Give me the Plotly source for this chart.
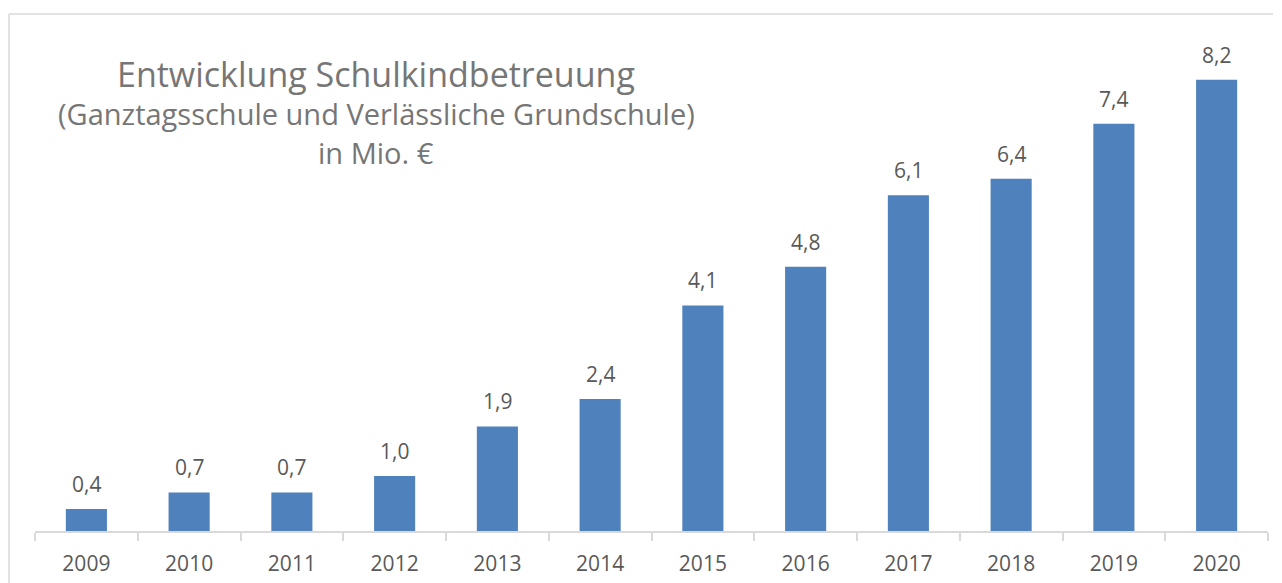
import plotly.graph_objects as go

years = ["2009", "2010", "2011", "2012", "2013", "2014", "2015", "2016", "2017", "2018", "2019", "2020"]
values = [0.4, 0.7, 0.7, 1.0, 1.9, 2.4, 4.1, 4.8, 6.1, 6.4, 7.4, 8.2]
title_lines = ["Entwicklung Schulkindbetreuung",
               "(Ganztagsschule und Verlässliche Grundschule)",
               "in Mio. €"]

OFF = 8  # default page body margin
W, H = 1282 - OFF, 583 - OFF
ml, mr, mt, mb = 35 - OFF, 14, 14 - OFF, 50
pw, ph = W - ml - mr, H - mt - mb

def px_x(p):
    return (p - OFF - ml) / pw

def px_y(p):
    return (H - mb - (p - OFF)) / ph

FONT = "Open Sans"
LABEL = "#595959"
TITLE = "#767676"
GRID = "#d9d9d9"

fig = go.Figure(go.Bar(
    x=years, y=values,
    marker=dict(color="#4F81BD", line=dict(width=0)),
    hoverinfo="x+y",
))

annotations = []
for i, v in enumerate(values):
    # category index on the category axis
    annotations.append(dict(
        x=i, y=v, xref="x", yref="y", text=f"{v:.1f}".replace(".", ","),
        showarrow=False, yanchor="bottom", yshift=9,
        font=dict(family=FONT, size=21, color=LABEL),
    ))

title_pos = [(74, 34), (114, 29), (153, 29)]
for line, (yc, fs) in zip(title_lines, title_pos):
    annotations.append(dict(
        x=px_x(376), y=px_y(yc), xref="paper", yref="paper", text=line,
        showarrow=False, xanchor="center", yanchor="middle",
        font=dict(family=FONT, size=fs, color=TITLE),
    ))

shapes = [
    dict(type="line", xref="paper", yref="paper", x0=px_x(9), x1=px_x(9),
         y0=px_y(14), y1=px_y(600), line=dict(color=GRID, width=1.5)),
    dict(type="line", xref="paper", yref="paper", x0=px_x(9), x1=px_x(1273),
         y0=px_y(14), y1=px_y(14), line=dict(color=GRID, width=1.5)),
]

fig.update_layout(
    width=W, height=H,
    margin=dict(l=ml, r=mr, t=mt, b=mb, pad=0),
    paper_bgcolor="white", plot_bgcolor="white",
    bargap=0.6, showlegend=False,
    annotations=annotations, shapes=shapes,
    font=dict(family=FONT, color=LABEL),
)
fig.update_xaxes(
    type="category", range=[-0.5, len(years) - 0.5],
    showline=True, linecolor=GRID, linewidth=1.5,
    ticks="outside", tickson="boundaries", ticklen=8, tickcolor=GRID, tickwidth=1.5,
    tickfont=dict(family=FONT, size=21, color=LABEL),
    ticklabelstandoff=13, showgrid=False, tickangle=0,
)
fig.update_yaxes(range=[0, ph / 55.24], visible=False, showgrid=False)

fig.write_html("out.html")
